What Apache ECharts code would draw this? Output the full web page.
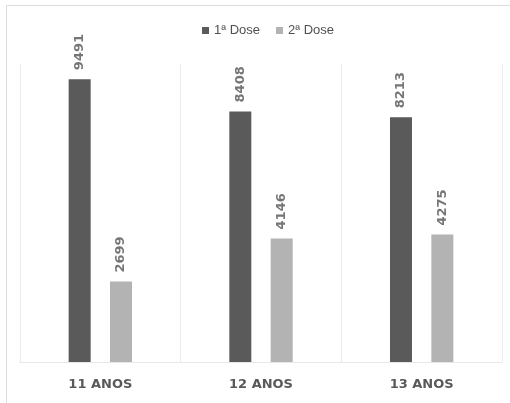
<!DOCTYPE html>
<html>
<head>
<meta charset="utf-8">
<script src="https://cdn.jsdelivr.net/npm/echarts@6/dist/echarts.min.js"></script>
<style>
  html, body { margin: 0; padding: 0; background: #fff; }
  #chart { width: 510px; height: 403px; }
</style>
</head>
<body>
<div id="chart"></div>
<script>
// Vaccination doses by age group
const categories = ['11 ANOS', '12 ANOS', '13 ANOS'];
const firstDose = [9491, 8408, 8213];
const secondDose = [2699, 4146, 4275];
const seriesNames = ['1ª Dose', '2ª Dose'];

const chart = echarts.init(document.getElementById('chart'), null, { renderer: 'canvas' });

const valueLabel = {
  show: true,
  position: 'top',
  rotate: 90,
  align: 'left',
  verticalAlign: 'middle',
  distance: 9,
  color: '#767676',
  fontFamily: 'DejaVu Sans',
  fontWeight: 'bold',
  fontSize: 13
};

chart.setOption({
  animation: false,
  backgroundColor: '#ffffff',
  legend: {
    top: 19,
    left: 197,
    itemWidth: 7,
    itemHeight: 7,
    itemGap: 16,
    icon: 'rect',
    textStyle: { color: '#505050', fontFamily: 'Liberation Sans', fontSize: 13 },
    data: seriesNames
  },
  grid: { left: 20, right: 8, top: 64, bottom: 41 },
  xAxis: {
    type: 'category',
    data: categories,
    axisLine: { show: true, lineStyle: { color: '#e8e8e8', width: 1 } },
    axisTick: { show: false },
    splitLine: { show: true, interval: 0, lineStyle: { color: '#ececec', width: 1 } },
    axisLabel: {
      color: '#595959',
      fontFamily: 'DejaVu Sans',
      fontWeight: 'bold',
      fontSize: 13,
      margin: 16
    }
  },
  yAxis: {
    type: 'value',
    min: 0,
    max: 10000,
    show: false,
    splitLine: { show: false }
  },
  series: [
    {
      name: seriesNames[0],
      type: 'bar',
      data: firstDose,
      barWidth: 22,
      barGap: '88%',
      itemStyle: { color: '#5a5a5a' },
      label: valueLabel
    },
    {
      name: seriesNames[1],
      type: 'bar',
      data: secondDose,
      barWidth: 22,
      itemStyle: { color: '#b3b3b3' },
      label: valueLabel
    }
  ],
  graphic: [
    { type: 'line', shape: { x1: 6.5, y1: 5.5, x2: 510, y2: 5.5 }, style: { stroke: '#dcdcdc', lineWidth: 1 } },
    { type: 'line', shape: { x1: 6.5, y1: 5.5, x2: 6.5, y2: 403 }, style: { stroke: '#dcdcdc', lineWidth: 1 } }
  ]
});
</script>
</body>
</html>
